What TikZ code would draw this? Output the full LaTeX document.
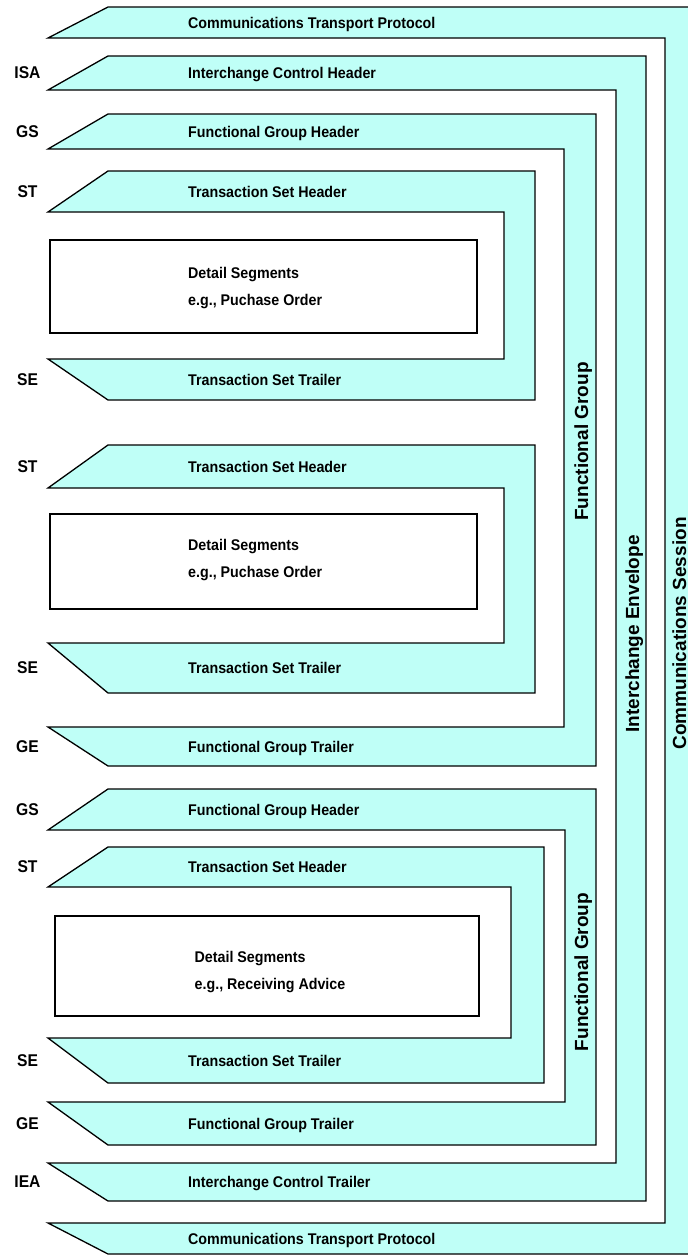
\documentclass[tikz,border=0pt]{standalone}
\usepackage{fontspec}
\setmainfont{Liberation Sans}
\usepackage{graphicx}
\definecolor{bandcyan}{RGB}{191,255,247}

% one nested envelope: header band, right-hand bar and trailer band
% #1 header top, #2 header bottom, #3 outer right, #4 inner right,
% #5 trailer top, #6 trailer bottom
\newcommand{\envshape}[6]{%
  \draw[bandshape] (48,#2) -- (108,#1) -- (#3,#1) -- (#3,#6) -- (108,#6)
    -- (48,#5) -- (#4,#5) -- (#4,#2) -- cycle;}
\newcommand{\sqz}[1]{\scalebox{0.92}[1]{#1}}

\begin{document}
\begin{tikzpicture}[x=1pt,y=-1pt,
  bandshape/.style={fill=bandcyan,draw=black,line width=1.3pt,line join=miter},
  detailbox/.style={fill=white,draw=black,line width=1.3pt},
  bandtext/.style={anchor=base west,inner sep=0pt,font=\bfseries\fontsize{15.5}{18}\selectfont},
  segtag/.style={anchor=center,inner sep=0pt,font=\bfseries\fontsize{17}{20}\selectfont},
  sidetext/.style={anchor=base,rotate=90,inner sep=0pt,font=\bfseries\fontsize{19}{22}\selectfont}]
\useasboundingbox (0,0) rectangle (688,1256);

% envelopes, outermost first
\envshape{7}{38}{700}{665}{1223}{1254}      % communications session
\envshape{56}{90}{646}{616}{1163}{1201}     % interchange
\envshape{114}{149}{596}{564}{727}{766}     % functional group 1
\envshape{171}{212}{535}{504}{359}{400}     % transaction set 1
\envshape{445}{488}{535}{504}{643}{693}     % transaction set 2
\envshape{789}{830}{596}{565}{1102}{1145}   % functional group 2
\envshape{847}{887}{544}{511}{1038}{1083}   % transaction set 3

% detail segment boxes
\draw[detailbox] (50,240) rectangle (477,333);
\draw[detailbox] (50,514) rectangle (477,609);
\draw[detailbox] (55,916) rectangle (479,1016);

% band titles
\node[bandtext] (ctptop) at (188,28.1) {\sqz{Communications Transport Protocol}};
\node[bandtext] (ich) at (188,78.6) {\sqz{Interchange Control Header}};
\node[bandtext] (fgh1) at (188,137.1) {\sqz{Functional Group Header}};
\node[bandtext] (tsh1) at (188,197.1) {\sqz{Transaction Set Header}};
\node[bandtext] (ds1a) at (188,278.6) {\sqz{Detail Segments}};
\node[bandtext] (ds1b) at (188,305.6) {\sqz{e.g., Puchase Order}};
\node[bandtext] (tst1) at (188,385.1) {\sqz{Transaction Set Trailer}};
\node[bandtext] (tsh2) at (188,472.1) {\sqz{Transaction Set Header}};
\node[bandtext] (ds2a) at (188,550.6) {\sqz{Detail Segments}};
\node[bandtext] (ds2b) at (188,577.6) {\sqz{e.g., Puchase Order}};
\node[bandtext] (tst2) at (188,673.6) {\sqz{Transaction Set Trailer}};
\node[bandtext] (fgt1) at (188,752.1) {\sqz{Functional Group Trailer}};
\node[bandtext] (fgh2) at (188,815.1) {\sqz{Functional Group Header}};
\node[bandtext] (tsh3) at (188,872.6) {\sqz{Transaction Set Header}};
\node[bandtext] (ds3a) at (194.5,962.3) {\sqz{Detail Segments}};
\node[bandtext] (ds3b) at (194.5,989.9) {\sqz{e.g., Receiving Advice}};
\node[bandtext] (tst3) at (188,1066.1) {\sqz{Transaction Set Trailer}};
\node[bandtext] (fgt2) at (188,1129.1) {\sqz{Functional Group Trailer}};
\node[bandtext] (ict) at (188,1187.6) {\sqz{Interchange Control Trailer}};
\node[bandtext] (ctpbot) at (188,1244.1) {\sqz{Communications Transport Protocol}};

% segment identifiers
\node[segtag] (isa) at (27.5,73) {\sqz{ISA}};
\node[segtag] (gs1) at (27.5,131.5) {\sqz{GS}};
\node[segtag] (st1) at (27.5,191.5) {\sqz{ST}};
\node[segtag] (se1) at (27.5,379.5) {\sqz{SE}};
\node[segtag] (st2) at (27.5,466.5) {\sqz{ST}};
\node[segtag] (se2) at (27.5,668) {\sqz{SE}};
\node[segtag] (ge1) at (27.5,746.5) {\sqz{GE}};
\node[segtag] (gs2) at (27.5,809.5) {\sqz{GS}};
\node[segtag] (st3) at (27.5,867) {\sqz{ST}};
\node[segtag] (se3) at (27.5,1060.5) {\sqz{SE}};
\node[segtag] (ge2) at (27.5,1123.5) {\sqz{GE}};
\node[segtag] (iea) at (27.5,1182) {\sqz{IEA}};

% vertical titles on the right-hand bars
\node[sidetext] (fgv1) at (588,441.5) {Functional Group};
\node[sidetext] (fgv2) at (588,972) {Functional Group};
\node[sidetext] (icev) at (639,634) {Interchange Envelope};
\node[sidetext] (csv) at (686,633.5) {Communications Session};
\end{tikzpicture}
\end{document}
